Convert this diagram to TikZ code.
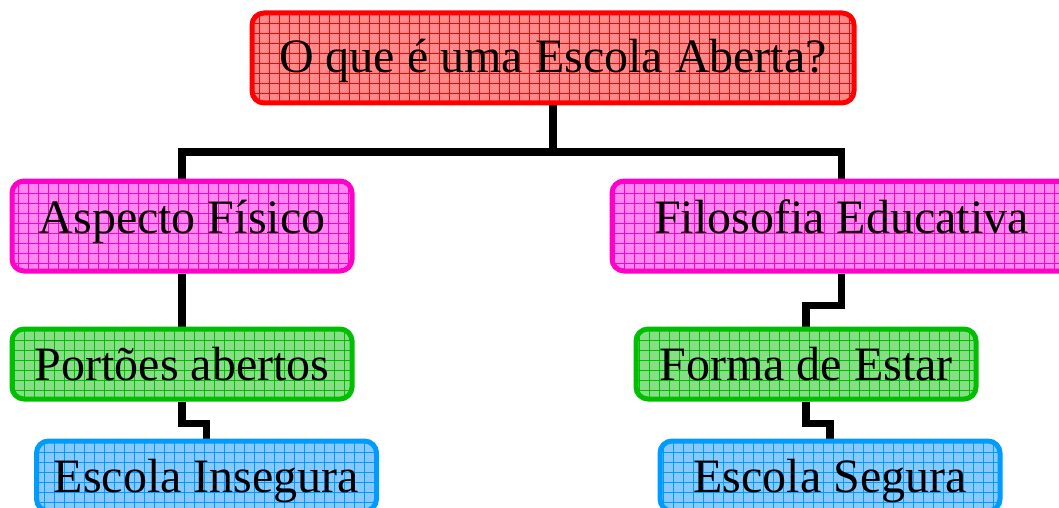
\documentclass[tikz,border=0pt]{standalone}
\usepackage{fontspec}
\setmainfont{Liberation Serif}
\usetikzlibrary{backgrounds}
\definecolor{boxred}{RGB}{255,0,0}
\definecolor{fillred}{RGB}{255,138,138}
\definecolor{boxpink}{RGB}{255,0,200}
\definecolor{fillpink}{RGB}{255,135,240}
\definecolor{boxgreen}{RGB}{0,190,0}
\definecolor{fillgreen}{RGB}{135,222,135}
\definecolor{boxblue}{RGB}{0,155,255}
\definecolor{fillblue}{RGB}{135,200,255}
\tikzset{caixa/.style = {draw = #1, line width = 2.5pt, rounded corners = 6pt,
                         minimum width = 170pt, minimum height = 35pt,
                         text height = 16pt, text depth = 0pt,
                         font = \fontsize{24}{28}\selectfont,
                         path picture = {\draw [#1, line width = 0.3pt, step = 5pt]
                           (path picture bounding box.south west) grid
                           (path picture bounding box.north east);}},
         ligacao/.style = {line width = 3.6pt}}

\begin{document}
\begin{tikzpicture}[x = 0.5pt, y = -0.5pt]
      \useasboundingbox (0, 0) rectangle (1059, 508);

      \node [caixa = boxred, fill = fillred, minimum width = 301pt, minimum height = 45pt,
             text depth = 1pt]
        (escola) at (553, 58) {O que é uma Escola Aberta?};

      \node [caixa = boxpink, fill = fillpink, minimum height = 45pt, text depth = 9pt]
        (fisico) at (182, 226) {Aspecto Físico};
      \node [caixa = boxpink, fill = fillpink, minimum width = 229.5pt, minimum height = 45pt,
             text depth = 9pt]
        (filosofia) at (841.5, 226) {Filosofia Educativa};

      \node [caixa = boxgreen, fill = fillgreen] (portoes) at (182, 364) {Portões abertos};
      \node [caixa = boxgreen, fill = fillgreen] (forma) at (806, 364) {Forma de Estar};

      \node [caixa = boxblue, fill = fillblue] (insegura) at (206.5, 476) {Escola Insegura};
      \node [caixa = boxblue, fill = fillblue] (segura) at (830, 476) {Escola Segura};

      \begin{scope}[on background layer]
        \coordinate (ramo) at (553, 152);
        \draw [ligacao] (escola.south) -- (ramo) -| (fisico.north);
        \draw [ligacao] (ramo) -| (filosofia.north);
        \draw [ligacao] (fisico.south) -- (portoes.north);
        \draw [ligacao] (portoes.south) -- ++(0, 22) -| (insegura.north);
        \draw [ligacao] (filosofia.south) -- ++(0, 32) -| (forma.north);
        \draw [ligacao] (forma.south) -- ++(0, 22) -| (segura.north);
      \end{scope}

    \end{tikzpicture}
\end{document}
